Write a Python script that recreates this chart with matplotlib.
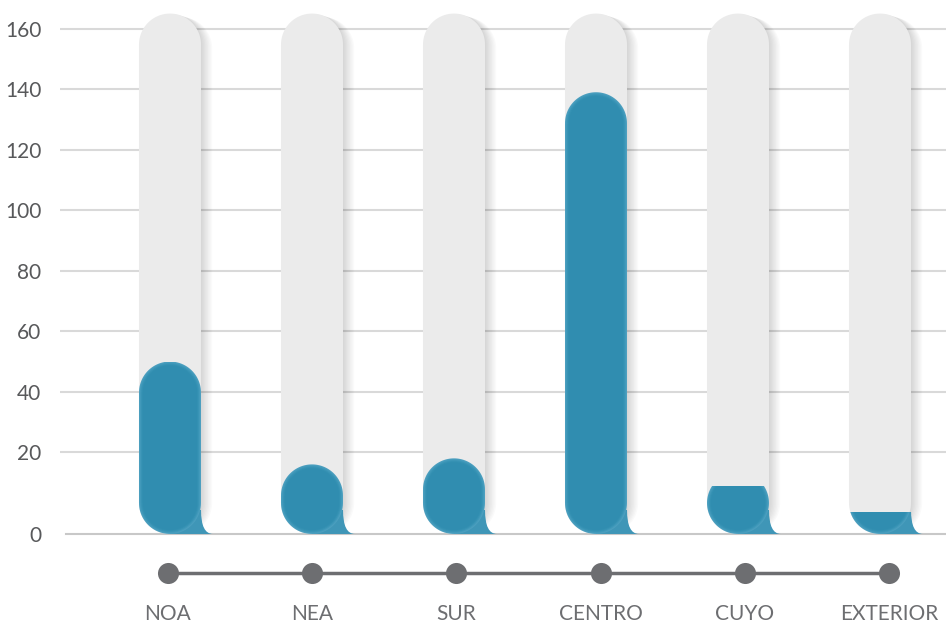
import matplotlib.pyplot as plt
import numpy as np
from matplotlib.patches import Polygon, Rectangle
from matplotlib.path import Path
from matplotlib.patches import PathPatch

# data
regions = ['NOA', 'NEA', 'SUR', 'CENTRO', 'CUYO', 'EXTERIOR']
values = [50, 16, 18, 139, 9, 0.4]
track_max = 165
y_ticks = [0, 20, 40, 60, 80, 100, 120, 140, 160]

BASE = -7  # baseline where the "0" label sits
BLUE_LAYERS = ['#4c9fbf', '#429abb', '#3994b6', '#3390b2', '#308db0']
TAIL_COLOR = '#3f96b7'
TRACK_COLOR = '#ebebeb'
GRID_COLOR = '#d9d9d9'
TEXT_COLOR = '#58595b'
DOT_COLOR = '#6d6e71'

plt.rcParams['font.family'] = ['Lato', 'DejaVu Sans']

fig = plt.figure(figsize=(9.46, 6.25), dpi=100)
ax = fig.add_axes([60 / 946, 0, 886 / 946, 1])
ax.set_xlim(-0.7746, 5.4648)
ax.set_ylim(-37.08, 169.48)

# pixel scale to keep the caps round
px_x = 886 / (5.4648 + 0.7746)
px_y = 625 / (169.48 + 37.08)
bar_w = 62 / px_x
rx = bar_w / 2
ry = rx * px_x / px_y


def pill(xc, y0, y1, rx, ry, n=48):
    """Closed outline of a vertical pill from y0 to y1"""
    t_bot = np.linspace(np.pi, 2 * np.pi, n)
    t_top = np.linspace(0, np.pi, n)
    bot = np.column_stack([xc + rx * np.cos(t_bot), y0 + ry + ry * np.sin(t_bot)])
    top = np.column_stack([xc + rx * np.cos(t_top), y1 - ry + ry * np.sin(t_top)])
    return np.vstack([bot, top])


# grid
for t in y_ticks[1:]:
    ax.axhline(t, color=GRID_COLOR, lw=1.5, zorder=0)
ax.axhline(BASE, xmin=6 / 886, color='#c8c8c8', lw=1.5, zorder=0)

for i, (name, v) in enumerate(zip(regions, values)):
    # soft shadow of the grey track
    for k in range(1, 9):
        sh = pill(i + k * 1.4 / px_x, BASE, track_max - k * 0.15, rx, ry)
        ax.add_patch(Polygon(sh, closed=True, facecolor='black', edgecolor='none',
                             alpha=0.018, zorder=1))
    ax.add_patch(Polygon(pill(i, BASE, track_max, rx, ry), closed=True,
                         facecolor=TRACK_COLOR, edgecolor='none', zorder=2))

    # little tail at the bottom right of the value bar
    xr = i + rx
    ht = 24 / px_y
    d = 12 / px_x
    verts = [(xr, BASE + ht), (xr, BASE), (xr + d, BASE), (i, BASE), (i, BASE + ht), (xr, BASE + ht)]
    codes = [Path.MOVETO, Path.CURVE3, Path.CURVE3, Path.LINETO, Path.LINETO, Path.CLOSEPOLY]
    tail = PathPatch(Path(verts, codes), facecolor=TAIL_COLOR, edgecolor='none', zorder=3)
    ax.add_patch(tail)

    # value bar, clipped at its value when shorter than a full pill
    top = max(v, BASE + 2 * ry)
    clip = Rectangle((i - 1, BASE - 5), 2, v - BASE + 5, transform=ax.transData)
    tail.set_clip_path(clip)
    for k, col in enumerate(BLUE_LAYERS):
        inset = k * 1.0
        p = pill(i, BASE + inset / px_y, top - inset / px_y,
                 rx - inset / px_x, ry - inset / px_y)
        patch = Polygon(p, closed=True, facecolor=col, edgecolor='none', zorder=4 + k)
        ax.add_patch(patch)
        patch.set_clip_path(clip)

ax.set_xticks([])
ax.set_yticks([BASE] + y_ticks[1:])
ax.set_yticklabels([str(t) for t in y_ticks], fontsize=15, color=TEXT_COLOR)
ax.tick_params(axis='y', length=0, pad=13.5)
for s in ax.spines.values():
    s.set_visible(False)
ax.patch.set_visible(False)

# timeline of categories below the chart
ax2 = fig.add_axes([0, 0, 1, 1])
ax2.set_xlim(-168 / 144.2, (946 - 168) / 144.2)
ax2.set_ylim(625, 0)
ax2.axis('off')
xs = np.arange(len(regions))
ax2.plot(xs, [573] * len(xs), color=DOT_COLOR, lw=2.5, zorder=1)
ax2.scatter(xs, [573] * len(xs), s=230, color=DOT_COLOR, zorder=2, linewidths=0)
for x, name in zip(xs, regions):
    ax2.text(x, 620, name, ha='center', va='baseline', fontsize=15, color=DOT_COLOR)

fig.savefig('out.png', dpi=100, facecolor='white')
